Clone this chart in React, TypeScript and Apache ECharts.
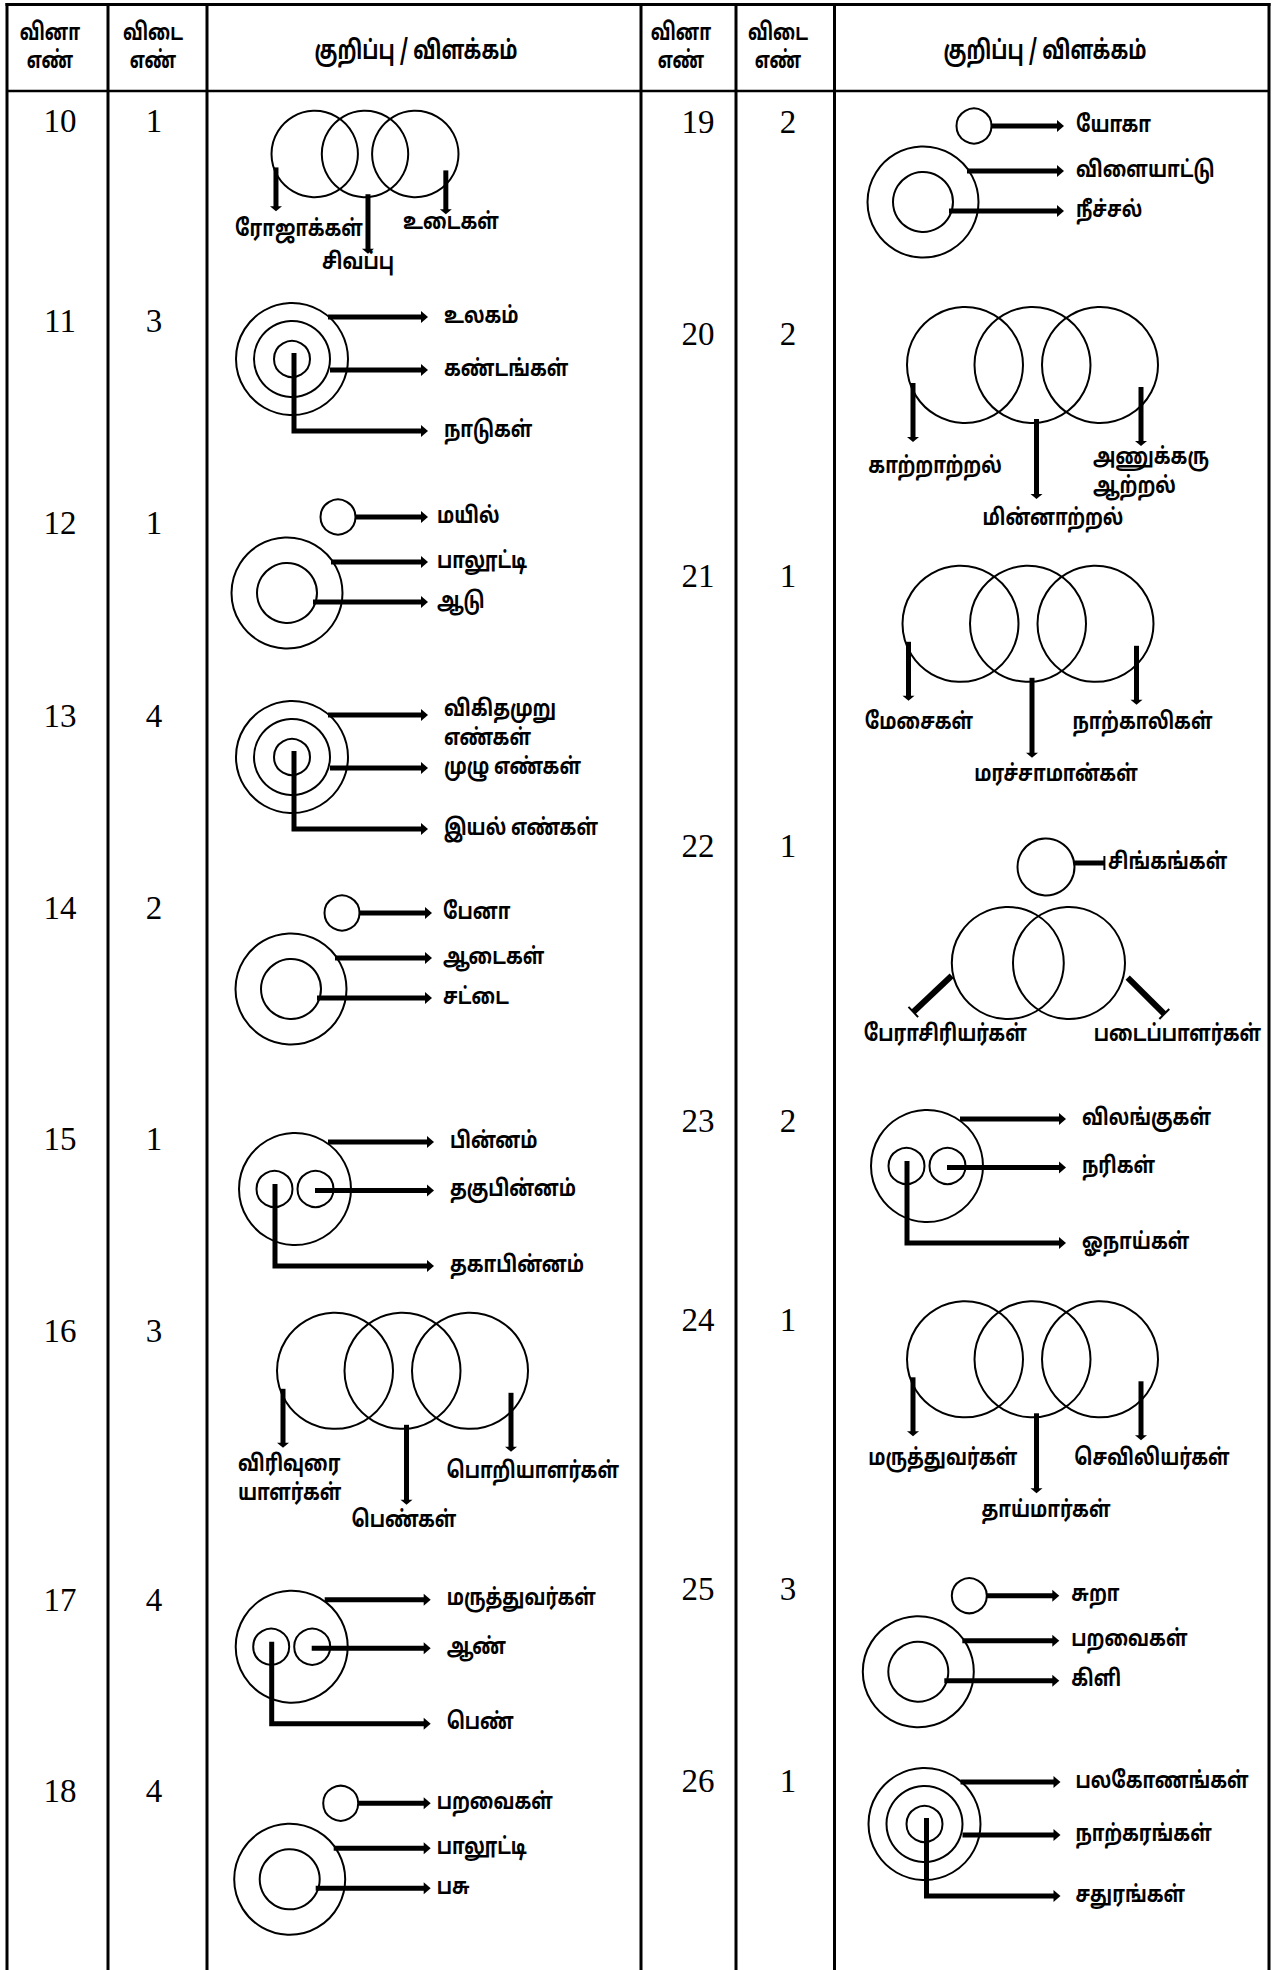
import React, { useEffect, useRef } from "react";
import * as echarts from "echarts";

// ---------- data ----------
const headerQuestion = "வினா\nஎண்";
const headerAnswer = "விடை\nஎண்";
const headerNote = "குறிப்பு / விளக்கம்";

const leftQuestions = ["10", "11", "12", "13", "14", "15", "16", "17", "18"];
const leftAnswers = ["1", "3", "1", "4", "2", "1", "3", "4", "4"];
const rightQuestions = ["19", "20", "21", "22", "23", "24", "25", "26"];
const rightAnswers = ["2", "2", "1", "1", "2", "1", "3", "1"];

const leftKinds = ["three", "nested3", "sepNested", "nested3", "sepNested", "twoInOne", "three", "twoInOne", "sepNested"];
const rightKinds = ["sepNested", "three", "three", "sepTwo", "twoInOne", "three", "sepNested", "nested3"];

const leftLabels = [
  ["ரோஜாக்கள்", "உடைகள்", "சிவப்பு"],
  ["உலகம்", "கண்டங்கள்", "நாடுகள்"],
  ["மயில்", "பாலூட்டி", "ஆடு"],
  ["விகிதமுறு\nஎண்கள்", "முழு எண்கள்", "இயல் எண்கள்"],
  ["பேனா", "ஆடைகள்", "சட்டை"],
  ["பின்னம்", "தகுபின்னம்", "தகாபின்னம்"],
  ["விரிவுரை\nயாளர்கள்", "பொறியாளர்கள்", "பெண்கள்"],
  ["மருத்துவர்கள்", "ஆண்", "பெண்"],
  ["பறவைகள்", "பாலூட்டி", "பசு"],
];
const rightLabels = [
  ["யோகா", "விளையாட்டு", "நீச்சல்"],
  ["காற்றாற்றல்", "அணுக்கரு\nஆற்றல்", "மின்னாற்றல்"],
  ["மேசைகள்", "நாற்காலிகள்", "மரச்சாமான்கள்"],
  ["சிங்கங்கள்", "பேராசிரியர்கள்", "படைப்பாளர்கள்"],
  ["விலங்குகள்", "நரிகள்", "ஓநாய்கள்"],
  ["மருத்துவர்கள்", "செவிலியர்கள்", "தாய்மார்கள்"],
  ["சுறா", "பறவைகள்", "கிளி"],
  ["பலகோணங்கள்", "நாற்கரங்கள்", "சதுரங்கள்"],
];

// ---------- layout ----------
const COLS = [7, 108, 207, 641, 736, 834.5, 1269];
const TOP = 4.5;
const HEADER_BOTTOM = 91;
const PAGE_H = 1970;
const headerX = [[50, 153, 416], [681, 778, 1045]];
const leftRowY = [121, 321, 522.5, 716, 908, 1139, 1331, 1600, 1791];
const rightRowY = [122, 334, 576, 846, 1120.5, 1320, 1589, 1781];
const leftAnchors = [[365, 154, 0.745], [292, 359, 1], [287, 593, 1], [292, 757, 1], [291, 989, 1], [295, 1189, 1], [402.5, 1370.8, 1], [291.7, 1646.7, 1], [289.7, 1879.3, 1]];
const rightAnchors = [[923, 202, 1], [1032.5, 365, 1], [1028, 623.8, 1], [1038.4, 963, 1], [927, 1166, 1], [1032.5, 1359.3, 1], [918.3, 1671.7, 1], [924.5, 1824, 1]];
const leftLabelLayout: any[] = [
  [[-66, 76, "center"], [86, 69, "center"], [-7, 109, "center"]],
  { dx: 152 },
  { dx: 150 },
  { dx: 152, dy0: 10 },
  { dx: 152 },
  { dx: 155 },
  [[-164.5, 109.5, "left"], [44, 102, "left"], [1.5, 151, "center"]],
  { dx: 155 },
  { dx: 147 },
];
const rightLabelLayout: any[] = [
  { dx: 153 },
  [[-97.5, 102, "center"], [60.5, 108, "left"], [20.5, 154.6, "center"]],
  [[-109, 100, "center"], [114.5, 100, "center"], [28, 152, "center"]],
  null,
  { dx: 155 },
  [[-89.7, 100.4, "center"], [119.5, 100.4, "center"], [13.5, 152.4, "center"]],
  { dx: 153 },
  { dx: 151 },
];

const FONT_TA = "'Noto Sans Tamil','Lohit Tamil','Latha','Noto Sans',sans-serif";
const FONT_NUM = "'Liberation Serif','Times New Roman',serif";

function buildElements() {
  const el: any[] = [];
  const line = (x1: number, y1: number, x2: number, y2: number, lw: number) =>
    el.push({ type: "line", silent: true, shape: { x1, y1, x2, y2 }, style: { stroke: "#000", lineWidth: lw, lineCap: "butt" } });
  const circ = (cx: number, cy: number, r: number) =>
    el.push({ type: "circle", silent: true, shape: { cx, cy, r }, style: { fill: "none", stroke: "#000", lineWidth: 2 } });
  const poly = (pts: number[][]) => el.push({ type: "polygon", silent: true, shape: { points: pts }, style: { fill: "#000" } });
  const txt = (x: number, y: number, text: string, align: string, size: number, family: string, weight: string, lh?: number, sx?: number) =>
    el.push({
      type: "text", silent: true, x, y, scaleX: sx || 1,
      style: { text, fill: "#000", fontSize: size, fontFamily: family, fontWeight: weight, align, verticalAlign: "middle", lineHeight: lh || size * 1.3 },
    });
  const arrowR = (x1: number, y: number, x2: number) => {
    line(x1, y, x2 - 5, y, 5);
    poly([[x2 - 7, y - 6], [x2, y], [x2 - 7, y + 6]]);
  };
  const arrowD = (x: number, y1: number, y2: number) => {
    line(x, y1, x, y2 - 4, 5);
    poly([[x - 6, y2 - 5], [x + 6, y2 - 5], [x, y2]]);
  };
  const corner = (x: number, y1: number, y2: number, x2: number) => {
    el.push({ type: "polyline", silent: true, shape: { points: [[x, y1], [x, y2], [x2 - 5, y2]] }, style: { stroke: "#000", lineWidth: 5, lineJoin: "miter", fill: "none" } });
    poly([[x2 - 7, y2 - 6], [x2, y2], [x2 - 7, y2 + 6]]);
  };
  const lab = (x: number, y: number, t: string, align = "left") => txt(x, y, t, align, 23, FONT_TA, "bold", 29, 0.8);

  // table
  line(COLS[0] - 1.5, TOP, COLS[COLS.length - 1] + 1.5, TOP, 3);
  line(COLS[0], HEADER_BOTTOM, COLS[COLS.length - 1], HEADER_BOTTOM, 2.5);
  COLS.forEach((x) => line(x, TOP - 1.5, x, PAGE_H, 3));

  // headers
  headerX.forEach((h) => {
    txt(h[0], 48, headerQuestion, "center", 24, FONT_TA, "bold", 28, 0.72);
    txt(h[1], 48, headerAnswer, "center", 24, FONT_TA, "bold", 28, 0.72);
    txt(h[2], 53, headerNote, "center", 26, FONT_TA, "bold", 30, 0.75);
  });

  // numbers
  leftQuestions.forEach((q, i) => txt(60, leftRowY[i], q, "center", 33, FONT_NUM, "normal"));
  leftAnswers.forEach((a, i) => txt(154, leftRowY[i], a, "center", 33, FONT_NUM, "normal"));
  rightQuestions.forEach((q, i) => txt(698, rightRowY[i], q, "center", 33, FONT_NUM, "normal"));
  rightAnswers.forEach((a, i) => txt(788, rightRowY[i], a, "center", 33, FONT_NUM, "normal"));

  const draw = (kind: string, anchor: number[], labels: string[], L: any) => {
    const [cx, cy, s] = anchor;
    if (kind === "three") {
      for (let k = -1; k <= 1; k++) circ(cx + k * 67.5 * s, cy, 58 * s);
      arrowD(cx - 119.5 * s, cy + 18 * s, cy + 77 * s);
      arrowD(cx + 4 * s, cy + 54 * s, cy + 134 * s);
      arrowD(cx + 108.5 * s, cy + 22 * s, cy + 81 * s);
      labels.forEach((t, i) => lab(cx + L[i][0], cy + L[i][1], t, L[i][2]));
    } else if (kind === "nested3") {
      circ(cx, cy, 56); circ(cx, cy, 38); circ(cx, cy, 18);
      arrowR(cx + 36, cy - 42, cx + 136);
      arrowR(cx + 38, cy + 11, cx + 136);
      corner(cx + 2, cy - 6, cy + 72, cx + 136);
      lab(cx + L.dx, cy - 42 + (L.dy0 || 0), labels[0]);
      lab(cx + L.dx, cy + 11, labels[1]);
      lab(cx + L.dx, cy + 72, labels[2]);
    } else if (kind === "sepNested") {
      circ(cx, cy, 55.5); circ(cx, cy, 30); circ(cx + 51, cy - 76, 17.5);
      arrowR(cx + 68.5, cy - 76, cx + 141);
      arrowR(cx + 44, cy - 31, cx + 141);
      arrowR(cx + 26, cy + 9, cx + 141);
      lab(cx + L.dx, cy - 76, labels[0]);
      lab(cx + L.dx, cy - 31, labels[1]);
      lab(cx + L.dx, cy + 9, labels[2]);
    } else if (kind === "twoInOne") {
      circ(cx, cy, 56); circ(cx - 20.5, cy, 18); circ(cx + 20.5, cy, 18);
      arrowR(cx + 33, cy - 47, cx + 139);
      arrowR(cx + 20, cy + 1.5, cx + 139);
      corner(cx - 20, cy - 5, cy + 77, cx + 139);
      lab(cx + L.dx, cy - 47, labels[0]);
      lab(cx + L.dx, cy + 1.5, labels[1]);
      lab(cx + L.dx, cy + 77, labels[2]);
    } else if (kind === "sepTwo") {
      circ(cx - 30.6, cy, 56); circ(cx + 30.6, cy, 56); circ(cx + 7.6, cy - 96, 28.5);
      line(cx + 36, cy - 100, cx + 66, cy - 100, 5);
      line(cx + 66, cy - 107, cx + 66, cy - 93, 2);
      const diag = (x1: number, y1: number, x2: number, y2: number) => {
        line(x1, y1, x2, y2, 6);
        const len = Math.hypot(x2 - x1, y2 - y1);
        const px = -(y2 - y1) / len, py = (x2 - x1) / len;
        line(x2 - px * 7, y2 - py * 7, x2 + px * 7, y2 + py * 7, 2);
      };
      diag(cx - 86.7, cy + 12.7, cx - 125.1, cy + 49);
      diag(cx + 89.3, cy + 14.6, cx + 125.9, cy + 51);
      lab(cx + 69.6, cy - 100, labels[0]);
      lab(cx - 93.1, cy + 72, labels[1], "center");
      lab(cx + 139.1, cy + 72, labels[2], "center");
    }
  };

  leftKinds.forEach((k, i) => draw(k, leftAnchors[i], leftLabels[i], leftLabelLayout[i]));
  rightKinds.forEach((k, i) => draw(k, rightAnchors[i], rightLabels[i], rightLabelLayout[i]));
  return el;
}

export default function App() {
  const ref = useRef<HTMLDivElement>(null);
  useEffect(() => {
    document.body.style.margin = "0";
    document.body.style.background = "#fff";
    const chart = echarts.init(ref.current!, null, { renderer: "svg" });
    chart.setOption({ animation: false, backgroundColor: "#fff", graphic: { elements: buildElements() } });
    return () => chart.dispose();
  }, []);
  return <div ref={ref} style={{ position: "absolute", left: 0, top: 0, width: 1285, height: 1970 }} />;
}
